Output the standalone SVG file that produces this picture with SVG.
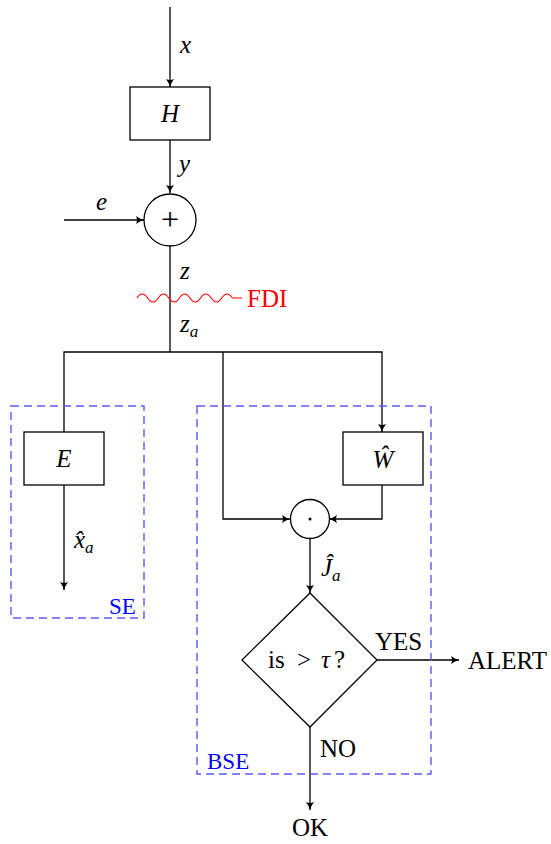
<svg xmlns="http://www.w3.org/2000/svg" width="551" height="844" viewBox="0 0 551 844">
<style>
.ln{fill:none;stroke:#000;stroke-width:1.3}
.box{fill:#fff;stroke:#000;stroke-width:1.3}
.dash{fill:none;stroke:#5a5aff;stroke-width:1.4;stroke-dasharray:8,5}
.t{font-family:"Liberation Serif","Times New Roman",serif;font-size:25px;fill:#000}
.m{font-family:"Liberation Serif","Times New Roman",serif;font-style:italic;font-size:25px;fill:#000}
.s{font-family:"Liberation Serif","Times New Roman",serif;font-style:italic;font-size:17px}
.b{font-family:"Liberation Serif","Times New Roman",serif;font-size:23px;fill:#0000ff}
.r{font-family:"Liberation Serif","Times New Roman",serif;font-size:25px;fill:#ff0000}
</style>
<defs>
<marker id="ar" markerWidth="10" markerHeight="10" refX="8" refY="5" orient="auto" markerUnits="userSpaceOnUse">
<path d="M0,1 Q4,4 8,5 Q4,6 0,9 Q2,5 0,1Z" fill="#000"/>
</marker>
</defs>
<g id="connectors">
<line class="ln" x1="170" y1="7" x2="170" y2="87" marker-end="url(#ar)"/>
<line class="ln" x1="170" y1="140" x2="170" y2="193" marker-end="url(#ar)"/>
<line class="ln" x1="64" y1="220" x2="144" y2="220" marker-end="url(#ar)"/>
<line class="ln" x1="170" y1="246" x2="170" y2="352"/>
<polyline class="ln" points="64,432 64,352 382,352 382,432" marker-end="url(#ar)"/>
<line class="ln" x1="64" y1="485" x2="64" y2="590" marker-end="url(#ar)"/>
<polyline class="ln" points="223,352 223,519 290,519" marker-end="url(#ar)"/>
<polyline class="ln" points="382,485 382,519 329,519" marker-end="url(#ar)"/>
<line class="ln" x1="310" y1="538" x2="310" y2="593" marker-end="url(#ar)"/>
<line class="ln" x1="377" y1="660" x2="459" y2="660" marker-end="url(#ar)"/>
<line class="ln" x1="310" y1="727" x2="310" y2="810" marker-end="url(#ar)"/>
<text class="m" x="180" y="53">x</text>
<text class="m" x="179" y="172">y</text>
<text class="m" x="96" y="210">e</text>
<text class="m" x="180" y="279">z</text>
<text class="m" x="180" y="332">z<tspan class="s" dy="5">a</tspan></text>
<text class="m" x="74" y="548">x̂<tspan class="s" dy="5">a</tspan></text>
<text class="m" x="321" y="576">Ĵ<tspan class="s" dy="5">a</tspan></text>
<text class="t" x="375" y="650">YES</text>
<text class="t" x="320" y="757">NO</text>
</g>
<g id="fdi">
<path d="M137,298 q5.3,-8 10.6,0 t10.6,0 t10.6,0 t10.6,0 t10.6,0 t10.6,0 t10.6,0 t10.6,0 t10.6,0 L242,298" fill="none" stroke="#ff0000" stroke-width="1.2"/>
<text class="r" x="247" y="307">FDI</text>
</g>
<g id="se">
<rect class="dash" x="11" y="406" width="133" height="212"/>
<text class="b" x="109" y="614">SE</text>
</g>
<g id="bse">
<rect class="dash" x="197" y="406" width="234" height="368"/>
<text class="b" x="207" y="769">BSE</text>
</g>
<g id="H">
<rect class="box" x="130" y="87" width="80" height="53"/>
<text class="m" x="170" y="122" text-anchor="middle">H</text>
</g>
<g id="sum">
<circle class="box" cx="170" cy="220" r="26"/>
<text class="t" x="170" y="230" text-anchor="middle" style="font-size:32px">+</text>
</g>
<g id="E">
<rect class="box" x="24" y="432" width="80" height="53"/>
<text class="m" x="64" y="467" text-anchor="middle">E</text>
</g>
<g id="W">
<rect class="box" x="343" y="432" width="80" height="53"/>
<text class="m" x="383" y="468" text-anchor="middle">Ŵ</text>
</g>
<g id="dot">
<circle class="box" cx="310" cy="519" r="19.5"/>
<circle cx="310" cy="519" r="1.5" fill="#000"/>
</g>
<g id="decision">
<polygon class="box" points="310,593 377,660 310,727 242,660"/>
<text class="t" x="268" y="668">is<tspan x="297">&gt;</tspan><tspan x="321" font-style="italic">τ</tspan><tspan x="334">?</tspan></text>
</g>
<g id="alert"><text class="t" x="468" y="669">ALERT</text></g>
<g id="ok"><text class="t" x="310" y="836" text-anchor="middle">OK</text></g>
</svg>
